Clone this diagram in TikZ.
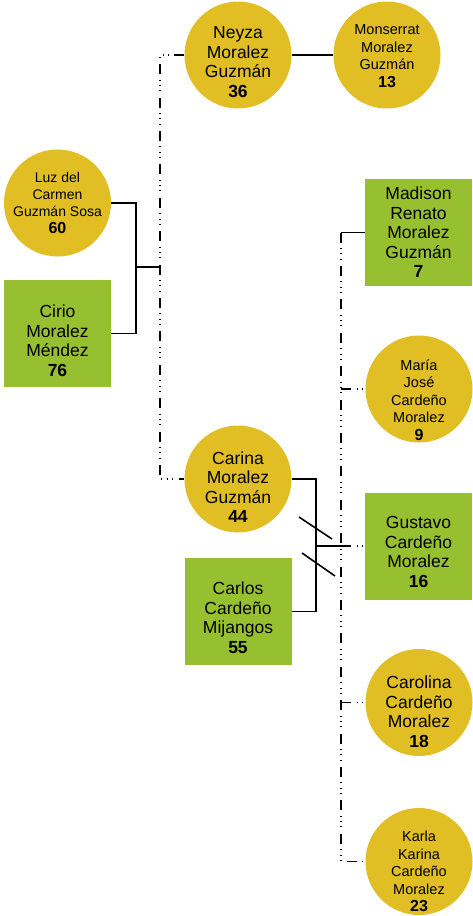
\documentclass[tikz,border=0pt]{standalone}
\usepackage{fontspec}
\setmainfont{Liberation Sans}
\definecolor{mujer}{RGB}{224,190,36}
\definecolor{hombre}{RGB}{150,192,48}
\newcommand\edad[1]{\textbf{\fontsize{16}{17}\selectfont #1}}
\begin{document}
\begin{tikzpicture}[x=1pt,y=-1pt,
  big/.style={font=\fontsize{17.5}{19.5}\selectfont,align=center},
  small/.style={font=\fontsize{14.5}{17.5}\selectfont,align=center},
  baja/.style={yshift=-#1},
  ella/.style={circle,fill=mujer,minimum size=107pt,inner sep=0pt},
  el/.style={rectangle,fill=hombre,minimum size=107pt,inner sep=0pt},
  union/.style={line width=1.6pt},
  hijo/.style={line width=1.3pt,dash pattern=on 10pt off 5.5pt on 0.8pt off 4.5pt on 0.8pt off 4.5pt on 0.8pt off 6.5pt}]
\useasboundingbox (0,0) rectangle (473,916);
% primera generacion
\node[ella] (luz) at (57.5,203) {};
\node[small,font=\fontsize{14}{17}\selectfont] (luz-t) at (luz) {Luz del\\Carmen\\Guzmán Sosa\\\edad{60}};
\node[el] (cirio) at (57.5,333.5) {};
\node[big,baja=7pt] (cirio-t) at (cirio) {Cirio\\Moralez\\Méndez\\\textbf{76}};
% hijas
\node[ella] (neyza) at (238,55) {};
\node[big,baja=7pt] (neyza-t) at (neyza) {Neyza\\Moralez\\Guzmán\\\textbf{36}};
\node[ella] (monse) at (387,55) {};
\node[small,baja=1pt] (monse-t) at (monse) {Monserrat\\Moralez\\Guzmán\\\edad{13}};
\node[ella] (carina) at (238,479) {};
\node[big,baja=8pt] (carina-t) at (carina) {Carina\\Moralez\\Guzmán\\\textbf{44}};
\node[el] (carlos) at (238,611.5) {};
\node[big,baja=6pt] (carlos-t) at (carlos) {Carlos\\Cardeño\\Mijangos\\\textbf{55}};
% nietos
\node[el] (madison) at (418.5,232.5) {};
\node[big] (madison-t) at (madison) {Madison\\Renato\\Moralez\\Guzmán\\\textbf{7}};
\node[ella] (maria) at (419,389) {};
\node[small,baja=11pt] (maria-t) at (maria) {María\\José\\Cardeño\\Moralez\\\edad{9}};
\node[el] (gustavo) at (418.5,546) {};
\node[big,baja=6pt] (gustavo-t) at (gustavo) {Gustavo\\Cardeño\\Moralez\\\textbf{16}};
\node[ella] (carolina) at (419,702.5) {};
\node[big,baja=9pt] (carolina-t) at (carolina) {Carolina\\Cardeño\\Moralez\\\textbf{18}};
\node[ella] (karla) at (419,861.5) {};
\node[small,baja=10pt] (karla-t) at (karla) {Karla\\Karina\\Cardeño\\Moralez\\\edad{23}};
\coordinate (p1) at (136,267);
\coordinate (k1) at (160,267);
\coordinate (p2) at (316,546);
\coordinate (k2) at (341,546);
\coordinate (k3) at (341,232.5);
% parejas
\draw[union] (luz.east) -| (p1) |- (cirio.east);
\draw[union] (p1) -- (k1);
\draw[union] (neyza) -- (monse);
\draw[union] (carina.east) -| (p2) |- (carlos.east);
\draw[union] (p2) -- (k2);
\draw[union] ([shift={(-17,-29)}]p2) -- ++(33,22);
\draw[union] ([shift={(-14,7)}]p2) -- ++(33,23);
% descendencia
\draw[hijo] (neyza.west) -| (k1) |- (carina.west);
\draw[union] (madison.west) -- (k3);
\draw[hijo] (k3) |- (karla.west);
\draw[hijo] (k2) -- (gustavo.west);
\draw[hijo] (maria.west -| k3) -- (maria.west);
\draw[hijo] (carolina.west -| k3) -- (carolina.west);
\end{tikzpicture}
\end{document}
